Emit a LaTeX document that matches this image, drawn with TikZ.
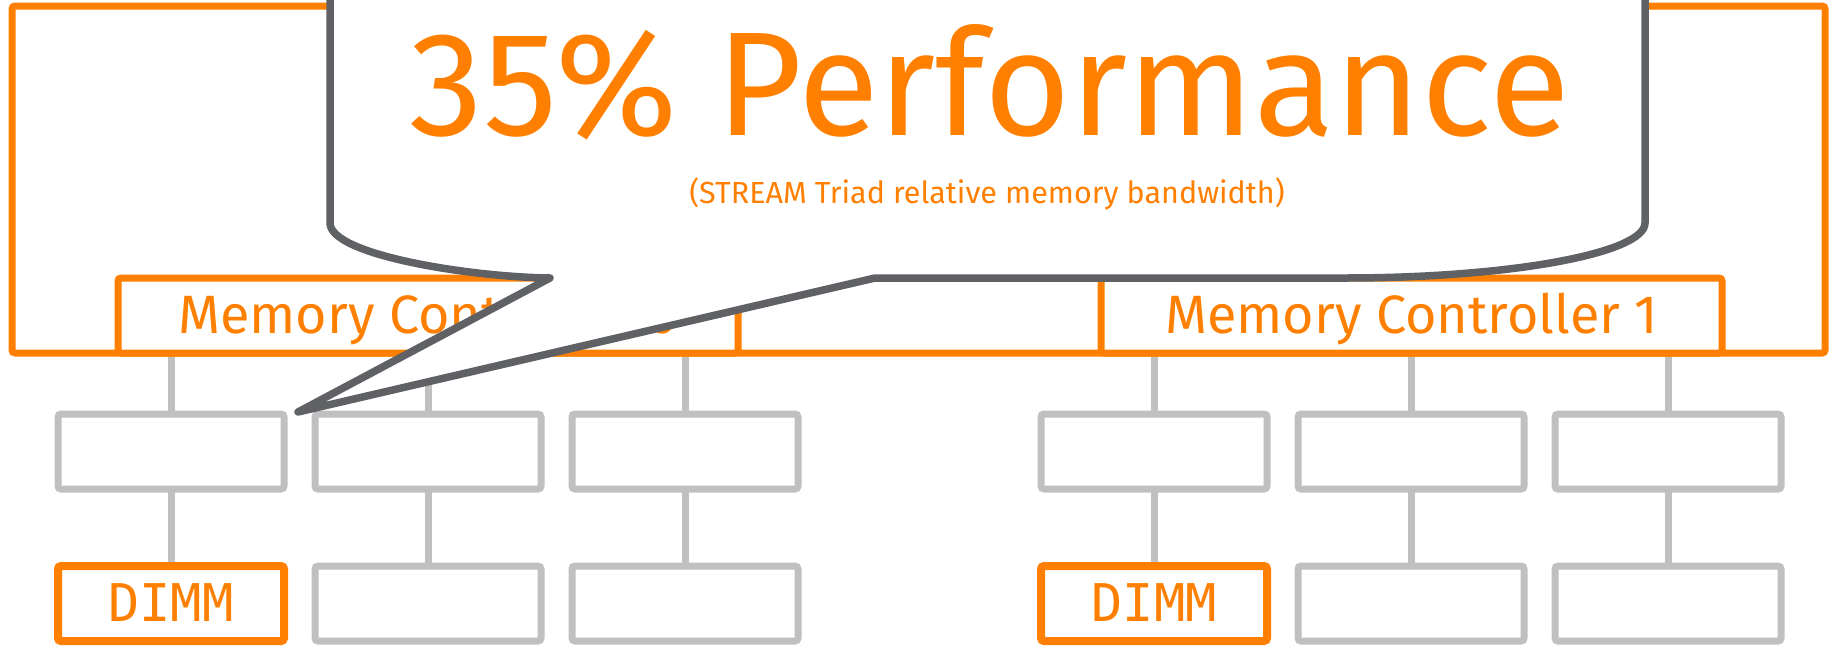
\documentclass[tikz,border=0pt]{standalone}
\usepackage{fontspec}
\setmainfont{Fira Sans}
\newfontfamily\dimmfont{DejaVu Sans Mono}
\usetikzlibrary{backgrounds}
\definecolor{iorange}{RGB}{255,128,0}
\definecolor{boxgray}{RGB}{192,192,192}
\definecolor{bubblegray}{RGB}{96,97,101}
\begin{document}
\begin{tikzpicture}[x=1pt,y=-1pt,
  obox/.style={draw=iorange, line width=7pt, rounded corners=3pt, minimum width=#1,
    minimum height=75pt, inner sep=0pt, outer sep=0pt, fill=white},
  gbox/.style={draw=boxgray, line width=7pt, rounded corners=3pt, minimum width=226pt,
    minimum height=75pt, inner sep=0pt, outer sep=0pt, fill=white},
  dbox/.style={gbox, draw=iorange, line width=8pt},
  conn/.style={draw=boxgray, line width=7pt},
  mctext/.style={text=iorange, font=\fontsize{54}{54}\selectfont, inner sep=0pt, anchor=base},
  dimmtext/.style={text=iorange, font=\dimmfont\fontsize{52}{52}\selectfont, inner sep=0pt, anchor=base},
  titletext/.style={text=iorange, font=\fontsize{148}{148}\selectfont, inner sep=0pt, anchor=base},
  subtext/.style={text=iorange, font=\fontsize{30.5}{30.5}\selectfont, inner sep=0pt, anchor=base},
  bubble/.style={draw=bubblegray, fill=white, line width=7.5pt, line join=round}]
\useasboundingbox (0,0) rectangle (1833,645);
\clip (0,0) rectangle (1833,645);
% outer frame and memory controllers
\node[obox=1813pt, minimum height=347pt, fill=none] (outer) at (918.5,179.5) {};
\node[obox=620pt] (mc0) at (428,315.5) {};
\node[obox=621pt] (mc1) at (1411.5,315.5) {};
\node[mctext] (mc0t) at (428,333) {Memory Controller 0};
\node[mctext] (mc1t) at (1411.5,333) {Memory Controller 1};
% channels and DIMMs
\foreach \n/\x in {a/171,b/428,c/685,d/1154,e/1411,f/1668}{
  \node[gbox] (top\n) at (\x,451.5) {};
}
\foreach \n/\x in {b/428,c/685,e/1411,f/1668}{
  \node[gbox] (bot\n) at (\x,603.5) {};
}
\node[dbox] (bota) at (171,603.5) {};
\node[dbox] (botd) at (1154,603.5) {};
\node[dimmtext] (dimma) at (171,621) {DIMM};
\node[dimmtext] (dimmd) at (1154,621) {DIMM};
\begin{scope}[on background layer]
\foreach \n in {a,b,c,d,e,f}{
  \draw[conn] (top\n.north) -- (top\n.north |- outer.south);
  \draw[conn] (top\n.south) -- (bot\n.north);
}
\end{scope}
% callout bubble
\coordinate (apex) at (298,412);
\draw[bubble] (330,-30) -- (330,223) .. controls (330,255) and (470,277) .. (550,278)
  -- (apex) -- (875,278) -- (1345,278) .. controls (1511,278) and (1645,253) .. (1645,223)
  -- (1645,-30) -- cycle;
\node[titletext] (title) at (990,135) {35\% Performance};
\node[subtext] (sub) at (987,203) {(STREAM Triad relative memory bandwidth)};
\end{tikzpicture}
\end{document}
